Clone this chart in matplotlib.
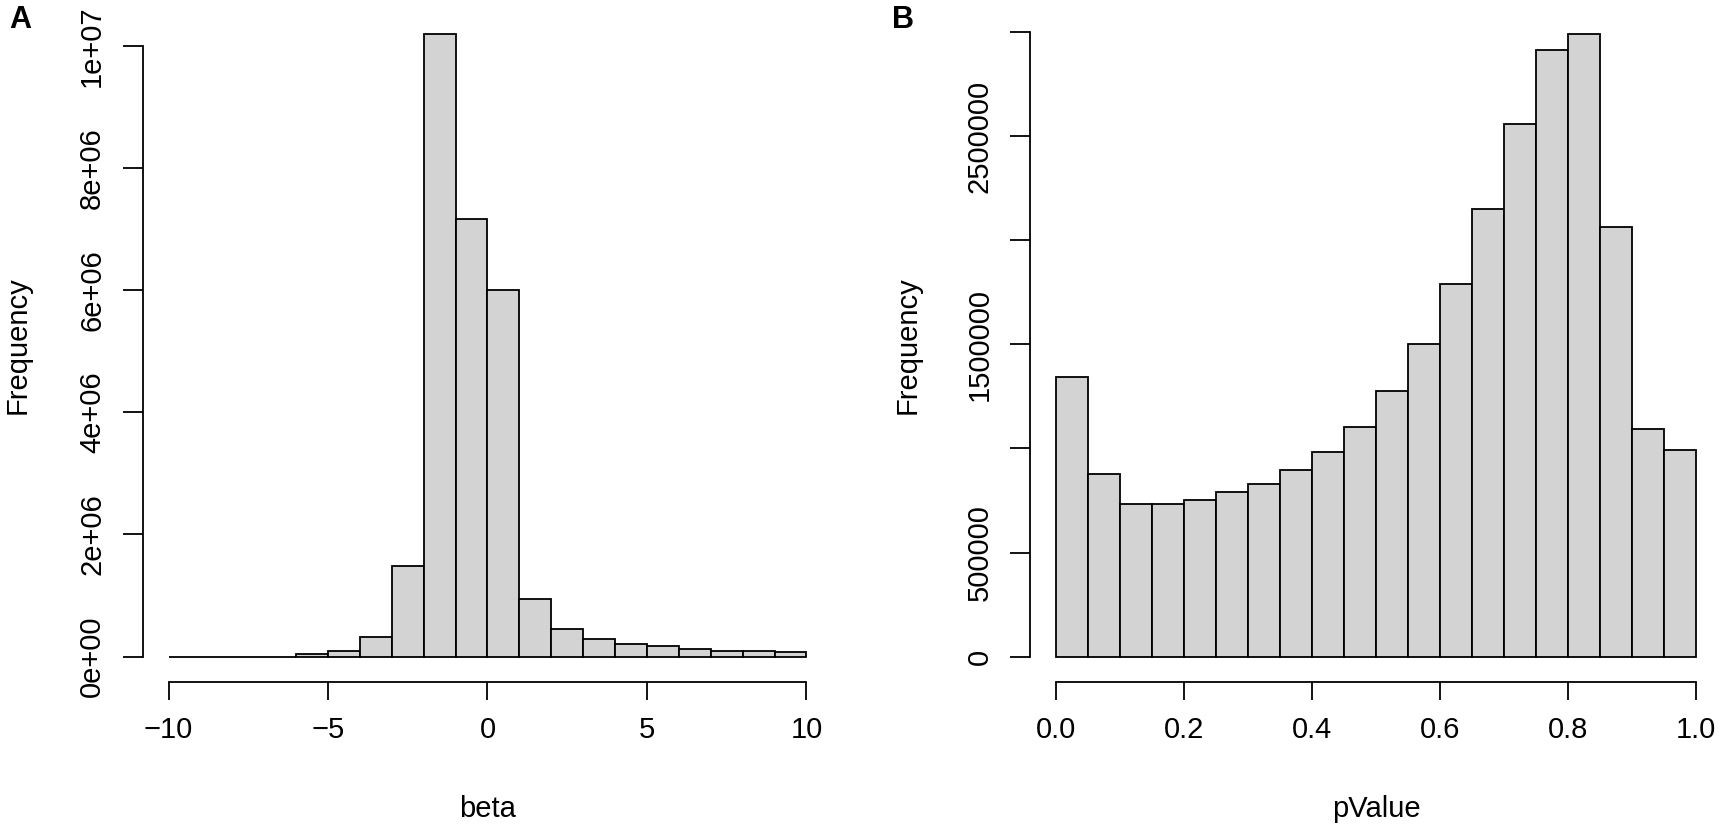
import matplotlib
matplotlib.use("Agg")
import matplotlib.pyplot as plt
from matplotlib.ticker import FixedLocator, FixedFormatter

plt.rcParams['font.family'] = ['Liberation Sans', 'DejaVu Sans']

# ---- data: panel A (beta) ----
beta_edges = [-10, -9, -8, -7, -6, -5, -4, -3, -2, -1, 0, 1, 2, 3, 4, 5, 6, 7, 8, 9, 10]
beta_counts = [200, 300, 500, 1500, 40000, 90000, 325000, 1480000, 10200000,
               7160000, 6010000, 940000, 450000, 287000, 210000, 167000, 123000,
               90000, 85000, 80000]
beta_xticks = [-10, -5, 0, 5, 10]
beta_xticklabels = ['\u221210', '\u22125', '0', '5', '10']
beta_yticks = [0, 2e6, 4e6, 6e6, 8e6, 1e7]
beta_yticklabels = ['0e+00', '2e+06', '4e+06', '6e+06', '8e+06', '1e+07']

# ---- data: panel B (pValue) ----
p_edges = [0.00, 0.05, 0.10, 0.15, 0.20, 0.25, 0.30, 0.35, 0.40, 0.45, 0.50,
           0.55, 0.60, 0.65, 0.70, 0.75, 0.80, 0.85, 0.90, 0.95, 1.00]
p_counts = [1344000, 876000, 731000, 731000, 754000, 791000, 828000, 898000,
            985000, 1103000, 1274000, 1501000, 1789000, 2150000, 2559000,
            2916000, 2992000, 2063000, 1092000, 991000]
p_xticks = [0.0, 0.2, 0.4, 0.6, 0.8, 1.0]
p_xticklabels = ['0.0', '0.2', '0.4', '0.6', '0.8', '1.0']
p_yticks = [0, 500000, 1000000, 1500000, 2000000, 2500000, 3000000]
p_yticklabels = ['0', '500000', '', '1500000', '', '2500000', '']

W, H = 1721, 826
fig = plt.figure(figsize=(W / 100, H / 100), dpi=100)

FS = 21
LW = 1.3
BAR = '#D3D3D3'

def px_axes(x0, x1, ytop, ybot):
    return fig.add_axes([x0 / W, (H - ybot) / H, (x1 - x0) / W, (ybot - ytop) / H])

def style(ax, edges, counts, xticks, xtl, yticks, ytl, xlabel, ylab_x):
    widths = [edges[i + 1] - edges[i] for i in range(len(counts))]
    ax.bar(edges[:-1], counts, width=widths, align='edge', color=BAR,
           edgecolor='black', linewidth=LW)
    xr = edges[-1] - edges[0]
    ax.set_xlim(edges[0] - 0.04 * xr, edges[-1] + 0.04 * xr)
    m = max(counts)
    ax.set_ylim(-0.04 * m, 1.04 * m)
    for s in ('top', 'right'):
        ax.spines[s].set_visible(False)
    ax.spines['left'].set_bounds(yticks[0], yticks[-1])
    ax.spines['bottom'].set_bounds(xticks[0], xticks[-1])
    for s in ('left', 'bottom'):
        ax.spines[s].set_linewidth(LW)
    ax.xaxis.set_major_locator(FixedLocator(xticks))
    ax.xaxis.set_major_formatter(FixedFormatter(xtl))
    ax.yaxis.set_major_locator(FixedLocator(yticks))
    ax.yaxis.set_major_formatter(FixedFormatter(ytl))
    ax.tick_params(axis='x', length=12.7, width=LW, pad=12.5, labelsize=FS)
    ax.tick_params(axis='y', length=14.5, width=LW, pad=12.0, labelsize=FS)
    for t in ax.get_yticklabels():
        t.set_rotation(90)
        t.set_va('center')
    ax.set_xlabel(xlabel, fontsize=FS)
    ax.xaxis.set_label_coords(0.5, -0.201)
    ax.xaxis.label.set_va('baseline')
    ax.set_ylabel('Frequency', fontsize=FS)
    ax.yaxis.set_label_coords(ylab_x, 0.5)
    ax.yaxis.label.set_va('center')

axA = px_axes(143, 832, 9, 681.5)
style(axA, beta_edges, beta_counts, beta_xticks, beta_xticklabels,
      beta_yticks, beta_yticklabels, 'beta', (18 - 143) / 689)

axB = px_axes(1030.4, 1721.6, 9, 681.5)
style(axB, p_edges, p_counts, p_xticks, p_xticklabels,
      p_yticks, p_yticklabels, 'pValue', (907.5 - 1030.4) / 691.2)

fig.text(9 / W, (H - 28) / H, 'A', fontsize=22, fontweight='bold', ha='left', va='baseline')
fig.text(892 / W, (H - 28) / H, 'B', fontsize=22, fontweight='bold', ha='left', va='baseline')

fig.savefig('out.png', dpi=100)
